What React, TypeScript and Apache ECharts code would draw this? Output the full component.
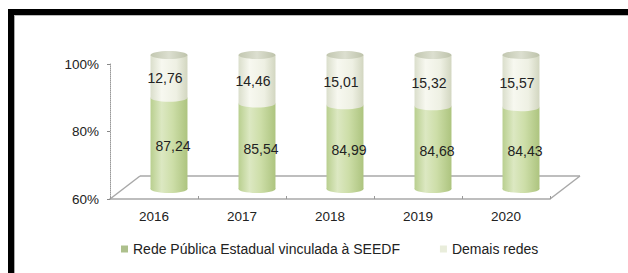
import React, { useEffect, useRef } from "react";
import * as echarts from "echarts";

const years = ["2016", "2017", "2018", "2019", "2020"];
const redePublica = [87.24, 85.54, 84.99, 84.68, 84.43];
const demaisRedes = [12.76, 14.46, 15.01, 15.32, 15.57];
const seriesNames = ["Rede Pública Estadual vinculada à SEEDF", "Demais redes"];
const Y_MIN = 60;
const Y_MAX = 100;
const Y_STEP = 20;

const FONT = "Liberation Sans, Arial, sans-serif";
const fmt = (v: number) => v.toFixed(2).replace(".", ",");

export default function App() {
  const ref = useRef<HTMLDivElement>(null);
  useEffect(() => {
    if (!ref.current) return;
    const chart = echarts.init(ref.current, undefined, { renderer: "svg" });
    const greenGrad = new echarts.graphic.LinearGradient(0, 0, 1, 0, [
      { offset: 0, color: "#b9cf8f" },
      { offset: 0.3, color: "#dce8c2" },
      { offset: 0.6, color: "#cddea8" },
      { offset: 1, color: "#adc47f" },
    ]);
    const whiteGrad = new echarts.graphic.LinearGradient(0, 0, 1, 0, [
      { offset: 0, color: "#dadecb" },
      { offset: 0.3, color: "#f7f8f0" },
      { offset: 0.7, color: "#eef0e3" },
      { offset: 1, color: "#d2d6c0" },
    ]);
    const capGrad = new echarts.graphic.LinearGradient(0, 0, 1, 0, [
      { offset: 0, color: "#c2c7b0" },
      { offset: 0.5, color: "#dcdfd0" },
      { offset: 1, color: "#bec3ab" },
    ]);
    const RY = 4;
    chart.setOption({
      animation: false,
      backgroundColor: "#ffffff",
      textStyle: { fontFamily: FONT },
      grid: [
        { left: 125, top: 55, width: 440, height: 134 },
        { left: 110, top: 64, width: 440, height: 135 },
      ],
      xAxis: [
        { type: "category", gridIndex: 0, data: years, show: false },
        {
          type: "category",
          gridIndex: 1,
          data: years,
          axisLine: { lineStyle: { color: "#a8a8a8", width: 1.5 } },
          axisTick: { show: true, inside: true, length: 3, lineStyle: { color: "#999" } },
          axisLabel: { color: "#222", fontSize: 13.5, margin: 10, fontFamily: FONT },
        },
      ],
      yAxis: [
        { type: "value", gridIndex: 0, min: Y_MIN, max: Y_MAX, show: false, splitLine: { show: false } },
        {
          type: "value",
          gridIndex: 1,
          min: Y_MIN,
          max: Y_MAX,
          interval: Y_STEP,
          axisLine: { show: true, lineStyle: { color: "#9a9a9a", type: "dotted" } },
          axisTick: { show: true, length: 3, lineStyle: { color: "#888" } },
          axisLabel: { color: "#222", fontSize: 13.5, margin: 11, formatter: "{value}%", fontFamily: FONT },
          splitLine: { show: false },
        },
      ],
      legend: {
        data: seriesNames,
        left: 116,
        top: 237,
        icon: "rect",
        itemWidth: 7,
        itemHeight: 7,
        itemGap: 40,
        textStyle: { color: "#222", fontSize: 14, fontFamily: FONT },
      },
      graphic: [
        { type: "rect", z: 0, shape: { x: 8, y: 9, width: 620, height: 6 }, style: { fill: "#000" } },
        { type: "rect", z: 0, shape: { x: 8, y: 9, width: 6, height: 264 }, style: { fill: "#000" } },
        { type: "line", z: 0, shape: { x1: 14.5, y1: 15, x2: 14.5, y2: 273 }, style: { stroke: "#aaa", lineWidth: 1 } },
        { type: "line", z: 0, shape: { x1: 14, y1: 15.5, x2: 628, y2: 15.5 }, style: { stroke: "#bbb", lineWidth: 1 } },
        { type: "line", z: 0, shape: { x1: 140, y1: 176, x2: 580, y2: 176 }, style: { stroke: "#a8a8a8", lineWidth: 1.5 } },
        { type: "line", z: 0, shape: { x1: 110, y1: 199, x2: 140, y2: 176 }, style: { stroke: "#a8a8a8", lineWidth: 1.5 } },
        { type: "line", z: 0, shape: { x1: 550, y1: 199, x2: 580, y2: 176 }, style: { stroke: "#a8a8a8", lineWidth: 1.5 } },
      ],
      series: [
        {
          name: seriesNames[0],
          type: "custom",
          xAxisIndex: 0,
          yAxisIndex: 0,
          z: 3,
          itemStyle: { color: "#adc08c" },
          data: redePublica.map((v, i) => [i, v]),
          renderItem: (params: any, api: any) => {
            const i = api.value(0);
            const v = api.value(1);
            const base = api.coord([i, Y_MIN]);
            const top = api.coord([i, v]);
            const w = api.size([1, 0])[0] * 0.42;
            const cx = base[0];
            return {
              type: "group",
              children: [
                { type: "ellipse", shape: { cx, cy: base[1], rx: w / 2, ry: RY }, style: { fill: greenGrad } },
                {
                  type: "rect",
                  shape: { x: cx - w / 2, y: top[1], width: w, height: base[1] - top[1] },
                  style: { fill: greenGrad },
                },
                {
                  type: "text",
                  x: cx + 4,
                  y: (top[1] + base[1]) / 2 + 3,
                  style: {
                    text: fmt(v),
                    fill: "#222",
                    font: `14px ${FONT}`,
                    align: "center",
                    verticalAlign: "middle",
                  },
                },
              ],
            };
          },
        },
        {
          name: seriesNames[1],
          type: "custom",
          xAxisIndex: 0,
          yAxisIndex: 0,
          z: 4,
          itemStyle: { color: "#e9eddb" },
          data: demaisRedes.map((v, i) => [i, redePublica[i], v]),
          renderItem: (params: any, api: any) => {
            const i = api.value(0);
            const start = api.value(1);
            const v = api.value(2);
            const bottom = api.coord([i, start]);
            const top = api.coord([i, start + v]);
            const w = api.size([1, 0])[0] * 0.42;
            const cx = bottom[0];
            return {
              type: "group",
              children: [
                { type: "ellipse", shape: { cx, cy: bottom[1], rx: w / 2, ry: RY }, style: { fill: whiteGrad } },
                {
                  type: "rect",
                  shape: { x: cx - w / 2, y: top[1], width: w, height: bottom[1] - top[1] },
                  style: { fill: whiteGrad },
                },
                { type: "ellipse", shape: { cx, cy: top[1], rx: w / 2, ry: RY }, style: { fill: capGrad } },
                {
                  type: "text",
                  x: cx - 4,
                  y: (top[1] + bottom[1]) / 2 + 2,
                  style: {
                    text: fmt(v),
                    fill: "#222",
                    font: `14px ${FONT}`,
                    align: "center",
                    verticalAlign: "middle",
                  },
                },
              ],
            };
          },
        },
      ],
    });
    return () => chart.dispose();
  }, []);
  return (
    <div
      ref={ref}
      style={{ position: "fixed", left: 0, top: 0, width: 628, height: 273 }}
    />
  );
}
